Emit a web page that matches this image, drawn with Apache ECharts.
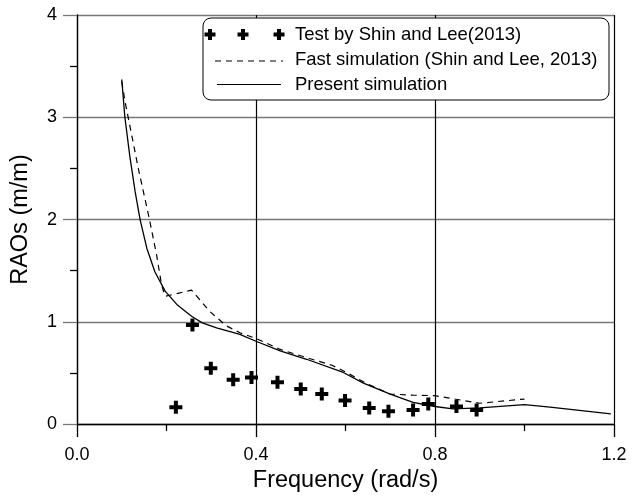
<!DOCTYPE html>
<html>
<head>
<meta charset="utf-8">
<script src="https://cdn.jsdelivr.net/npm/echarts@6/dist/echarts.min.js"></script>
<style>html,body{margin:0;padding:0;background:#fff}#c{width:641px;height:498px}</style>
</head>
<body>
<div id="c"></div>
<script>
// ---- data ----
var testData = [[0.221,0.165],[0.258,0.97],[0.299,0.545],[0.349,0.434],[0.390,0.456],[0.448,0.41],[0.500,0.343],[0.547,0.294],[0.599,0.23],[0.653,0.158],[0.696,0.126],[0.751,0.139],[0.785,0.197],[0.848,0.172],[0.893,0.139]];
var fastSim = [[0.1,3.35],[0.107,3.16],[0.118,2.92],[0.137,2.5],[0.162,2.0],[0.178,1.65],[0.189,1.36],[0.197,1.25],[0.256,1.31],[0.297,1.10],[0.334,0.96],[0.364,0.893],[0.40,0.838],[0.454,0.73],[0.513,0.65],[0.57,0.575],[0.6,0.51],[0.65,0.39],[0.70,0.294],[0.75,0.283],[0.80,0.278],[0.90,0.204],[1.0,0.245]];
var presentSim = [[0.1,3.37],[0.107,3.0],[0.118,2.62],[0.130,2.27],[0.141,2.0],[0.156,1.72],[0.174,1.49],[0.197,1.30],[0.223,1.17],[0.256,1.055],[0.28,0.99],[0.312,0.94],[0.364,0.877],[0.40,0.81],[0.454,0.715],[0.513,0.634],[0.595,0.505],[0.64,0.40],[0.70,0.294],[0.751,0.213],[0.80,0.172],[0.84,0.149],[0.90,0.158],[1.0,0.19],[1.057,0.165],[1.193,0.10]];
var seriesNames = ['Test by Shin and Lee(2013)','Fast simulation (Shin and Lee, 2013)','Present simulation'];
var xTitle = 'Frequency (rad/s)';
var yTitle = 'RAOs (m/m)';

var FONT = 'Liberation Sans, Arial, sans-serif';
var plusPath = 'path://M4.5,0H8.5V4.5H13V8.5H8.5V13H4.5V8.5H0V4.5H4.5Z';

function plusPoly(cx, cy, s, t) {
  var h = s/2, a = t/2;
  return [[cx-a,cy-h],[cx+a,cy-h],[cx+a,cy-a],[cx+h,cy-a],[cx+h,cy+a],[cx+a,cy+a],[cx+a,cy+h],[cx-a,cy+h],[cx-a,cy+a],[cx-h,cy+a],[cx-h,cy-a],[cx-a,cy-a]];
}

var legendGraphics = [
  {type:'rect', z:100, shape:{x:203,y:18,width:406,height:82,r:8}, style:{fill:'#fff',stroke:'#000',lineWidth:1}},
  {type:'polygon', z:101, shape:{points:plusPoly(210,34.5,11,4)}, style:{fill:'#000'}},
  {type:'polygon', z:101, shape:{points:plusPoly(243,34.5,11,4)}, style:{fill:'#000'}},
  {type:'polygon', z:101, shape:{points:plusPoly(279,34.5,11,4)}, style:{fill:'#000'}},
  {type:'line', z:101, shape:{x1:215,y1:61,x2:283,y2:61}, style:{stroke:'#000',lineWidth:1.2,lineDash:[6,5]}},
  {type:'line', z:101, shape:{x1:217,y1:84.5,x2:281,y2:84.5}, style:{stroke:'#000',lineWidth:1.2}},
  {type:'text', z:101, x:295, y:34.5, style:{text:seriesNames[0],font:'18.5px '+FONT,fill:'#000',verticalAlign:'middle'}},
  {type:'text', z:101, x:295, y:59.5, style:{text:seriesNames[1],font:'18.5px '+FONT,fill:'#000',verticalAlign:'middle'}},
  {type:'text', z:101, x:295, y:84.5, style:{text:seriesNames[2],font:'18.5px '+FONT,fill:'#000',verticalAlign:'middle'}}
];

var chart = echarts.init(document.getElementById('c'), null, {renderer:'canvas'});
chart.setOption({
  animation:false,
  backgroundColor:'#fff',
  grid:{left:77,right:27,top:15,bottom:71,containLabel:false},
  xAxis:{
    type:'value', min:0, max:1.2, interval:0.4,
    name:xTitle, nameLocation:'middle', nameGap:41,
    nameTextStyle:{fontFamily:FONT,fontSize:23.5,color:'#000'},
    axisLine:{show:true,onZero:false,lineStyle:{color:'#000',width:1.3}},
    axisTick:{show:true,length:13,lineStyle:{color:'#000',width:1.3}},
    minorTick:{show:true,splitNumber:2,length:7,lineStyle:{color:'#000',width:1.3}},
    splitLine:{show:true,lineStyle:{color:'#000',width:1.2}},
    axisLabel:{fontFamily:FONT,fontSize:18,color:'#000',margin:22,formatter:function(v){return v.toFixed(1);}}
  },
  yAxis:{
    type:'value', min:0, max:4, interval:1,
    name:yTitle, nameLocation:'middle', nameGap:44, nameRotate:90,
    nameTextStyle:{fontFamily:FONT,fontSize:23.5,color:'#000'},
    axisLine:{show:true,lineStyle:{color:'#000',width:1.3}},
    axisTick:{show:true,length:14,lineStyle:{color:'#777',width:1.3}},
    minorTick:{show:true,splitNumber:2,length:7,lineStyle:{color:'#000',width:1.3}},
    splitLine:{show:true,lineStyle:{color:'#777',width:1.3}},
    axisLabel:{fontFamily:FONT,fontSize:18,color:'#000',margin:20}
  },
  series:[
    {name:seriesNames[0],type:'scatter',data:testData,symbol:plusPath,symbolSize:13,itemStyle:{color:'#000',opacity:1},z:5},
    {name:seriesNames[1],type:'line',data:fastSim,showSymbol:false,symbol:'none',lineStyle:{color:'#000',width:1.2,type:[6,5]},z:4},
    {name:seriesNames[2],type:'line',data:presentSim,showSymbol:false,symbol:'none',lineStyle:{color:'#000',width:1.3},z:4}
  ],
  graphic:legendGraphics
});
</script>
</body>
</html>
